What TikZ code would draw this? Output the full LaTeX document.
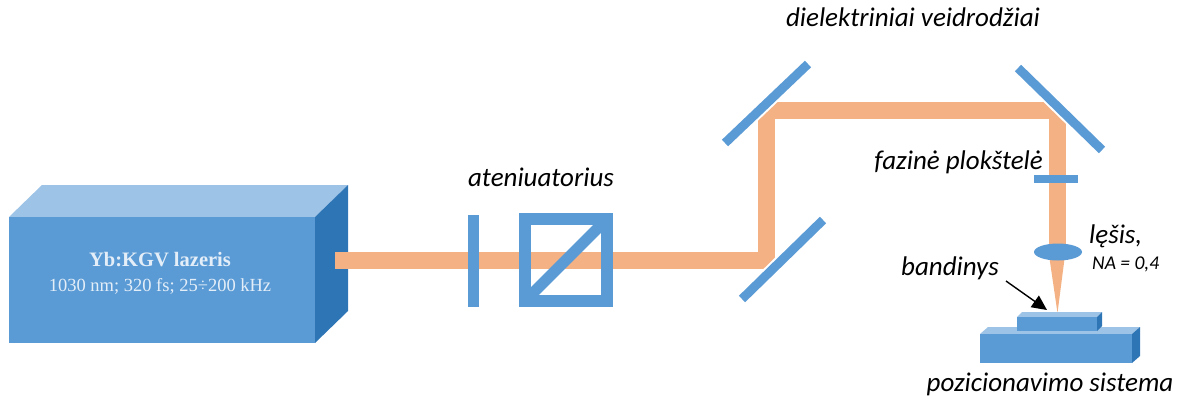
\documentclass[tikz,border=0pt]{standalone}
\usepackage{fontspec}
\setmainfont{Liberation Serif}
\newfontfamily\labelfont{Carlito}
\usetikzlibrary{arrows.meta}
\definecolor{boxfront}{HTML}{5B9BD5}
\definecolor{boxtop}{HTML}{9DC3E6}
\definecolor{boxside}{HTML}{2E75B6}
\definecolor{beamcol}{HTML}{F4B183}
\definecolor{optblue}{HTML}{5B9BD5}
\definecolor{boxtext}{HTML}{E4EEF8}
\tikzset{
  beam/.style={draw=beamcol, line width=17pt, line join=bevel},
  mirror/.style={draw=optblue, line width=9pt, line cap=butt},
  mirrorhalo/.style={draw=white, line width=13pt, line cap=butt},
  lbl/.style={font=\labelfont\itshape\fontsize{27}{32}\selectfont, text=black, inner sep=0pt},
  smalllbl/.style={font=\labelfont\itshape\fontsize{19.5}{23}\selectfont, text=black, inner sep=0pt},
}
\begin{document}
\begin{tikzpicture}[x=1pt,y=-1pt]
\useasboundingbox (0,0) rectangle (1189,400);

% laser head (three visible faces)
\fill[boxtop] (9,217) -- (42,185) -- (348,185) -- (315,217) -- cycle;
\fill[boxside] (315,217) -- (348,185) -- (348,311) -- (315,343) -- cycle;
\fill[boxfront] (9,217) rectangle (315,343);
\node[font=\bfseries\fontsize{20.5}{24}\selectfont, text=boxtext] (lasername) at (160,260) {Yb:KGV lazeris};
\node[font=\fontsize{18.5}{22}\selectfont, text=boxtext] (laserdata) at (160,286) {1030 nm; 320 fs; 25÷200 kHz};

% beam path
\coordinate (out) at (335,260);
\coordinate (m1) at (766,260);
\coordinate (m2) at (766,110);
\coordinate (m3) at (1057,110);
\coordinate (lens) at (1057,253);
\draw[beam] (out) -- (m1) -- (m2) -- (m3) -- (lens);
% focused cone below the lens
\fill[beamcol] (1049,255) -- (1065,255) -- (1057.5,313) -- cycle;

% half-wave plate of the attenuator
\draw[white, line width=3pt] (473,215) -- (473,307);
\fill[optblue] (468,215) rectangle (479,307);
% polarizing cube
\draw[optblue, line width=12pt] (525,219) rectangle (607,301);
\draw[optblue, line width=11pt] (525,301) -- (607,219);
\node[lbl] (att) at (541,177) {ateniuatorius};

% dielectric mirrors
\draw[mirrorhalo] (742,299) -- (823,220);
\draw[mirror] (742,299) -- (823,220);
\draw[mirrorhalo] (725,143) -- (808,64);
\draw[mirror] (725,143) -- (808,64);
\draw[mirrorhalo] (1018,68) -- (1102,150);
\draw[mirror] (1018,68) -- (1102,150);
\node[lbl] (mirrors) at (913,17) {dielektriniai veidrodžiai};

% phase plate
\fill[optblue] (1034,175) rectangle (1078,183);
\node[lbl, anchor=east] (plate) at (1043,162) {fazinė plokštelė};

% focusing lens
\fill[optblue] (1058,252) ellipse [x radius=24, y radius=8.5];
\node[lbl, anchor=west] (lenslbl) at (1089,236) {lęšis,};
\node[smalllbl, anchor=west] (na) at (1092,264) {NA = 0,4};

% positioning stage
\fill[boxtop] (980,334) -- (988,327) -- (1140,327) -- (1132,334) -- cycle;
\fill[boxside] (1132,334) -- (1140,327) -- (1140,356) -- (1132,363) -- cycle;
\fill[boxfront] (980,334) rectangle (1132,363);
% sample
\fill[boxtop] (1017,317) -- (1022,312) -- (1102,312) -- (1097,317) -- cycle;
\fill[boxside] (1097,317) -- (1102,312) -- (1102,326) -- (1097,331) -- cycle;
\fill[boxfront] (1017,317) rectangle (1097,331);
\node[lbl] (stage) at (1050,384) {pozicionavimo sistema};

% sample label with pointer
\node[lbl] (sample) at (950,268) {bandinys};
\coordinate (ptrstart) at (1006,281);
\coordinate (ptrend) at (1047,310);
\draw[black, line width=1.4pt, -{Triangle[length=15pt, width=14pt]}] (ptrstart) -- (ptrend);
\end{tikzpicture}
\end{document}
